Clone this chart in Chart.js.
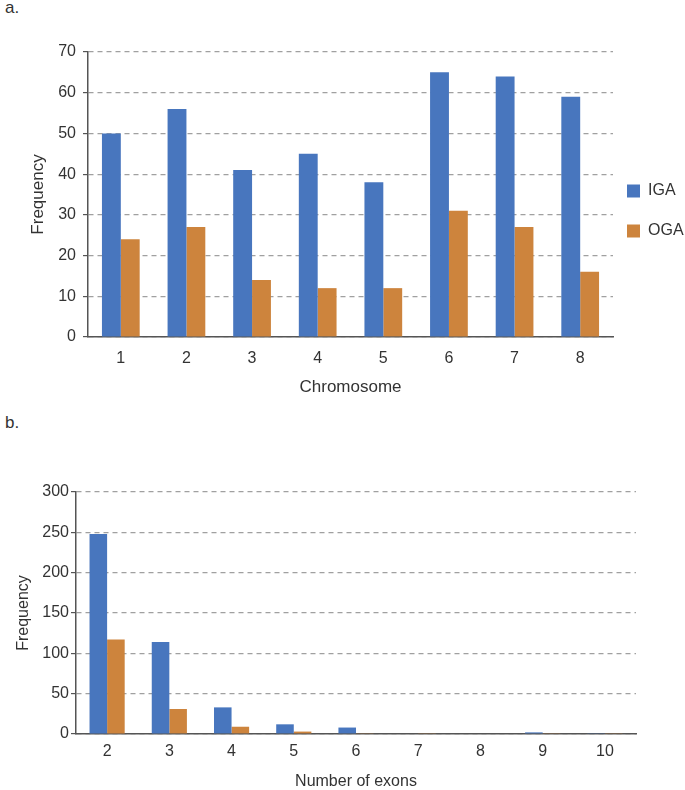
<!DOCTYPE html>
<html>
<head>
<meta charset="utf-8">
<script src="https://cdn.jsdelivr.net/npm/chart.js@4.4.1/dist/chart.umd.min.js"></script>
<style>
  html, body { margin: 0; padding: 0; background: #ffffff; }
  body { width: 685px; height: 790px; position: relative; overflow: hidden; font-family: "Liberation Sans", Arial, Helvetica, sans-serif; }
  .panel { position: absolute; left: 5px; font-size: 17px; line-height: 17px; color: #333; }
  #wrapA { position: absolute; left: 0; top: 0; width: 685px; height: 420px; }
  #wrapB { position: absolute; left: 0; top: 440px; width: 685px; height: 350px; }
</style>
</head>
<body>
<div class="panel" style="top:-1px;">a.</div>
<div class="panel" style="top:414px;">b.</div>
<div id="wrapA"><canvas id="chartA" width="685" height="420"></canvas></div>
<div id="wrapB"><canvas id="chartB" width="685" height="350"></canvas></div>
<script>
// ---- Data ----
const chromosomes = ['1', '2', '3', '4', '5', '6', '7', '8'];
const igaByChromosome = [50, 56, 41, 45, 38, 65, 64, 59];
const ogaByChromosome = [24, 27, 14, 12, 12, 31, 27, 16];

const exonCounts = ['2', '3', '4', '5', '6', '7', '8', '9', '10'];
const igaByExons = [248, 114, 33, 12, 8, 0, 0, 2, 1];
const ogaByExons = [117, 31, 9, 3, 0.5, 0.5, 0, 0.5, 0.5];

const seriesNames = ['IGA', 'OGA'];
const yTicksA = { min: 0, max: 70, step: 10 };
const yTicksB = { min: 0, max: 300, step: 50 };

// ---- Styles ----
const BLUE = '#4876BE';
const ORANGE = '#CD843D';
const FONT = '"Liberation Sans", Arial, Helvetica, sans-serif';
const TEXT = '#333333';
const AXIS = '#555555';
const GRID = '#a0a0a0';

Chart.defaults.font.family = FONT;
Chart.defaults.color = TEXT;

function yScale(t, width, titlePadTop, tickPad, titleSize) {
  return {
    min: t.min, max: t.max,
    ticks: { stepSize: t.step, padding: tickPad, color: TEXT, font: { size: 16 } },
    grid: { color: GRID, lineWidth: 1.2, tickLength: 5, tickColor: AXIS, tickWidth: 1.2, tickBorderDash: [] },
    border: { display: true, color: AXIS, width: 1.5, dash: [5, 4] },
    title: { display: true, text: 'Frequency', color: TEXT, font: { size: titleSize }, padding: { top: titlePadTop, bottom: 0 } },
    afterFit: (s) => { s.width = width; }
  };
}

function xScale(title, height, tickPad, titlePadBottom, titleSize, titleLH) {
  return {
    grid: { display: false, drawTicks: false },
    border: { display: true, color: AXIS, width: 1.5 },
    ticks: { padding: tickPad, color: TEXT, font: { size: 16 } },
    title: { display: true, text: title, color: TEXT, font: { size: titleSize, lineHeight: titleLH }, padding: { top: 0, bottom: titlePadBottom } },
    afterFit: (s) => { s.height = height; }
  };
}

// Legend placement helper (chart a)
const legendFix = {
  id: 'legendFix',
  beforeInit(chart) {
    const lg = chart.legend;
    if (!lg) return;
    const orig = lg.fit;
    lg.fit = function () { orig.call(this); this.width = 72; };
  },
  afterLayout(chart) {
    const lg = chart.legend;
    if (!lg) return;
    lg.left = 603; lg.right = 685;
    lg.top = 52; lg.bottom = 370;
  }
};

new Chart(document.getElementById('chartA'), {
  type: 'bar',
  data: {
    labels: chromosomes,
    datasets: [
      { label: seriesNames[0], data: igaByChromosome, backgroundColor: BLUE, borderWidth: 0 },
      { label: seriesNames[1], data: ogaByChromosome, backgroundColor: ORANGE, borderWidth: 0 }
    ]
  },
  options: {
    responsive: false, animation: false, devicePixelRatio: 1,
    layout: { padding: { top: 52, left: 0, right: 0, bottom: 0 } },
    datasets: { bar: { barPercentage: 1, categoryPercentage: 0.575 } },
    scales: {
      x: xScale('Chromosome', 83, 12, 22, 17, 1.2),
      y: yScale(yTicksA, 88, 28, 7, 17)
    },
    plugins: {
      legend: {
        display: true, position: 'right',
        labels: { boxWidth: 13, boxHeight: 13, padding: 24, color: TEXT, font: { size: 16 } }
      },
      tooltip: { enabled: false }
    }
  },
  plugins: [legendFix]
});

new Chart(document.getElementById('chartB'), {
  type: 'bar',
  data: {
    labels: exonCounts,
    datasets: [
      { label: seriesNames[0], data: igaByExons, backgroundColor: BLUE, borderWidth: 0 },
      { label: seriesNames[1], data: ogaByExons, backgroundColor: ORANGE, borderWidth: 0 }
    ]
  },
  options: {
    responsive: false, animation: false, devicePixelRatio: 1,
    layout: { padding: { top: 52, left: 0, right: 49, bottom: 0 } },
    datasets: { bar: { barPercentage: 1, categoryPercentage: 0.565 } },
    scales: {
      x: xScale('Number of exons', 56, 8, 0, 16, 1),
      y: yScale(yTicksB, 76, 14, 2, 16)
    },
    plugins: {
      legend: { display: false },
      tooltip: { enabled: false }
    }
  }
});
</script>
</body>
</html>
